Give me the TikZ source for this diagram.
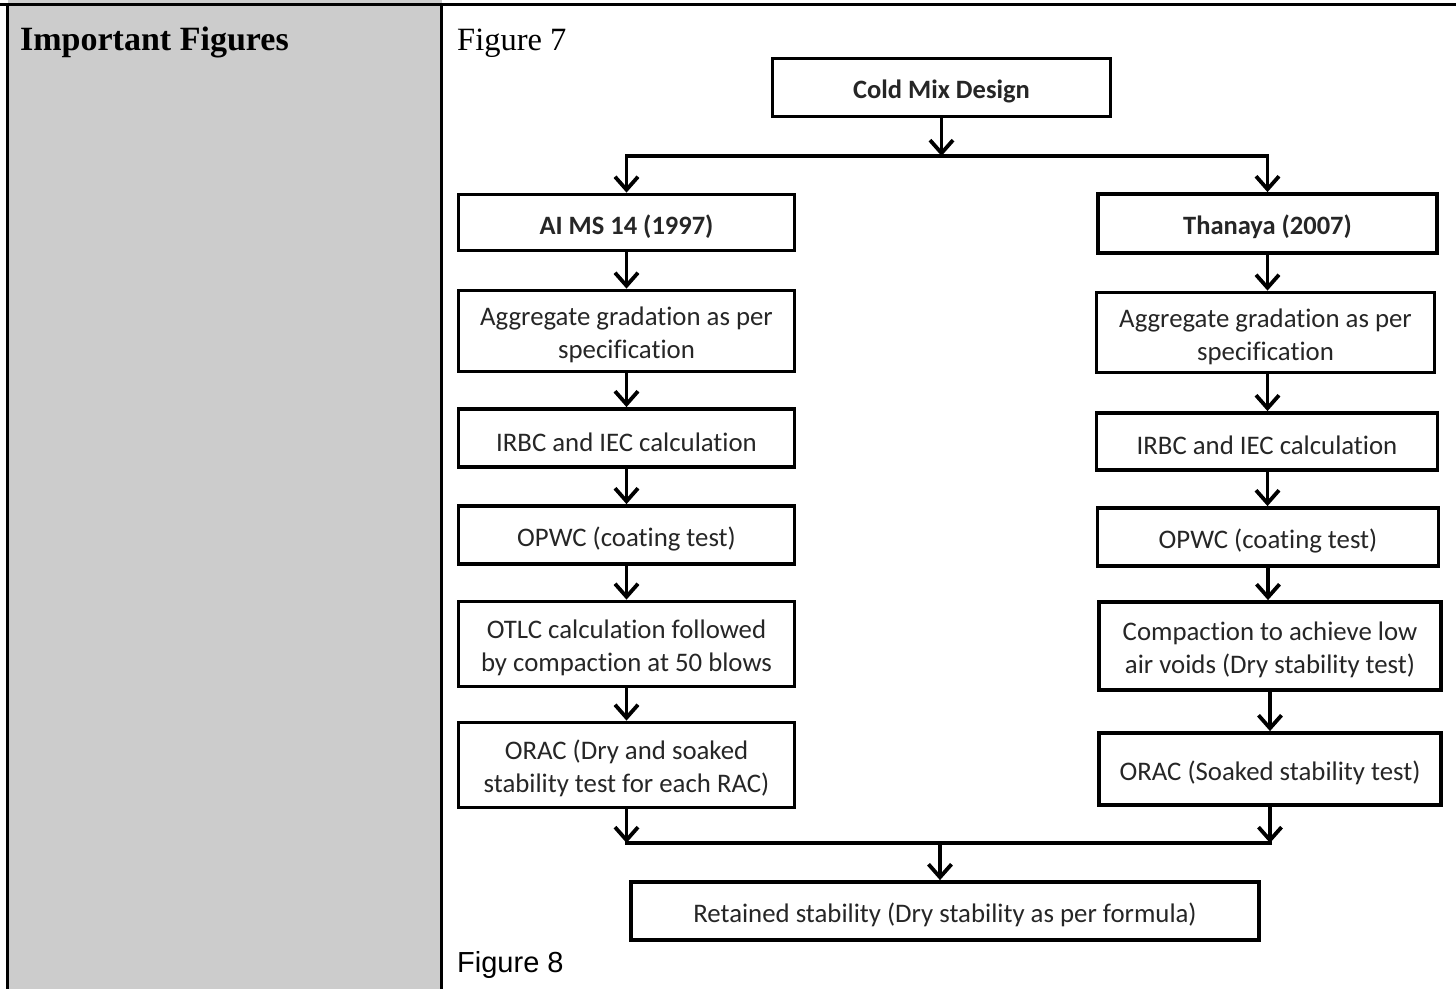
\documentclass[tikz,border=0pt]{standalone}
\usepackage{fontspec}
\setmainfont{Liberation Serif}
\newfontfamily\boxfont[RawFeature=-liga]{Carlito}
\newfontfamily\arialfont{Liberation Sans}
\usetikzlibrary{arrows.meta}
\definecolor{cellgray}{HTML}{CCCCCC}
\definecolor{inkgray}{HTML}{262626}
% taller first line so box text sits a little lower
\newcommand\firstline{\rule{0pt}{27pt}}
\tikzset{
  stepbox/.style={draw=black, line width=3.8pt, fill=white, align=center,
    text=inkgray, inner sep=0pt,
    execute at begin node={\firstline},
    font=\boxfont\fontsize{26.8}{33}\selectfont},
  titlebox/.style={stepbox, font=\boxfont\bfseries\fontsize{26.5}{33}\selectfont},
  flow/.style={line width=3.8pt, -{Straight Barb[length=13pt,width=23pt,line width=3.8pt]}},
  bus/.style={line width=3.8pt, line cap=rect},
  rule/.style={line width=3.3pt, black}
}
\begin{document}
\begin{tikzpicture}[x=1pt,y=-1pt]
\useasboundingbox (0,0) rectangle (1456,989);

% table cells
\fill[cellgray] (7.5,0) rectangle (441.5,989);
\draw[rule] (0,4.5) -- (1456,4.5);
\draw[rule] (7.5,3) -- (7.5,989);
\draw[rule] (441.5,3) -- (441.5,989);

\node[anchor=base west, font=\bfseries\fontsize{34}{38}\selectfont, inner sep=0pt]
  (heading) at (20,50) {Important Figures};
\node[anchor=base west, font=\fontsize{32.5}{36}\selectfont, inner sep=0pt]
  (fig7) at (457,50) {Figure 7};
\node[anchor=base west, font=\arialfont\fontsize{29}{32}\selectfont, inner sep=0pt]
  (fig8) at (457,972) {Figure 8};

% top of the flowchart
\node[titlebox, minimum width=338pt, minimum height=58pt] (cmd) at (941.5,87.5) {Cold Mix Design};
\coordinate (topbus) at (941.5,156);

% left branch
\node[titlebox, minimum width=336pt, minimum height=56pt] (ai)   at (626.5,222.5) {AI MS 14 (1997)};
\node[stepbox, minimum width=336pt, minimum height=81pt] (lagg)  at (626.5,331) {\firstline Aggregate gradation as per\\specification};
\node[stepbox, minimum width=336pt, minimum height=58pt] (lirbc) at (626.5,438) {IRBC and IEC calculation};
\node[stepbox, minimum width=336pt, minimum height=58pt] (lopwc) at (626.5,535) {OPWC (coating test)};
\node[stepbox, minimum width=336pt, minimum height=85pt] (lotlc) at (626.5,644) {\firstline OTLC calculation followed\\by compaction at 50 blows};
\node[stepbox, minimum width=336pt, minimum height=85pt] (lorac) at (626.5,765) {\firstline ORAC (Dry and soaked\\stability test for each RAC)};

% right branch
\node[titlebox, minimum width=339pt, minimum height=59pt] (th)   at (1267.5,223.5) {Thanaya (2007)};
\node[stepbox, minimum width=338pt, minimum height=80pt] (ragg)  at (1265.5,332.5) {\firstline Aggregate gradation as per\\specification};
\node[stepbox, minimum width=341pt, minimum height=57pt] (rirbc) at (1267,441.5) {IRBC and IEC calculation};
\node[stepbox, minimum width=341pt, minimum height=58pt] (ropwc) at (1268,537) {OPWC (coating test)};
\node[stepbox, minimum width=342pt, minimum height=88pt] (rcomp) at (1270,646) {\firstline Compaction to achieve low\\air voids (Dry stability test)};
\node[stepbox, minimum width=342pt, minimum height=72pt] (rorac) at (1270,769) {ORAC (Soaked stability test)};

% bottom
\coordinate (botbus) at (940,843);
\node[stepbox, minimum width=628pt, minimum height=58pt] (ret) at (945,911) {Retained stability (Dry stability as per formula)};

% connectors
\draw[flow] (cmd.south) -- (topbus);
\draw[bus] (topbus -| ai.north) -- (topbus -| th.north);
\draw[flow] (topbus -| ai.north) -- (ai.north);
\draw[flow] (topbus -| th.north) -- (th.north);

\draw[flow] (ai.south) -- (ai.south |- lagg.north);
\draw[flow] (lagg.south) -- (lagg.south |- lirbc.north);
\draw[flow] (lirbc.south) -- (lirbc.south |- lopwc.north);
\draw[flow] (lopwc.south) -- (lopwc.south |- lotlc.north);
\draw[flow] (lotlc.south) -- (lotlc.south |- lorac.north);

\draw[flow] (th.south) -- (th.south |- ragg.north);
\draw[flow] (ragg.south -| th.south) -- (th.south |- rirbc.north);
\draw[flow] (rirbc.south -| th.south) -- (th.south |- ropwc.north);
\draw[flow] (ropwc.south) -- (ropwc.south |- rcomp.north);
\draw[flow] (rcomp.south) -- (rcomp.south |- rorac.north);

\draw[bus] (botbus -| lorac.south) -- (botbus -| rorac.south);
\draw[flow] (lorac.south) -- (lorac.south |- botbus);
\draw[flow] (rorac.south) -- (rorac.south |- botbus);
\draw[flow] (botbus) -- (botbus |- ret.north);
\end{tikzpicture}
\end{document}
